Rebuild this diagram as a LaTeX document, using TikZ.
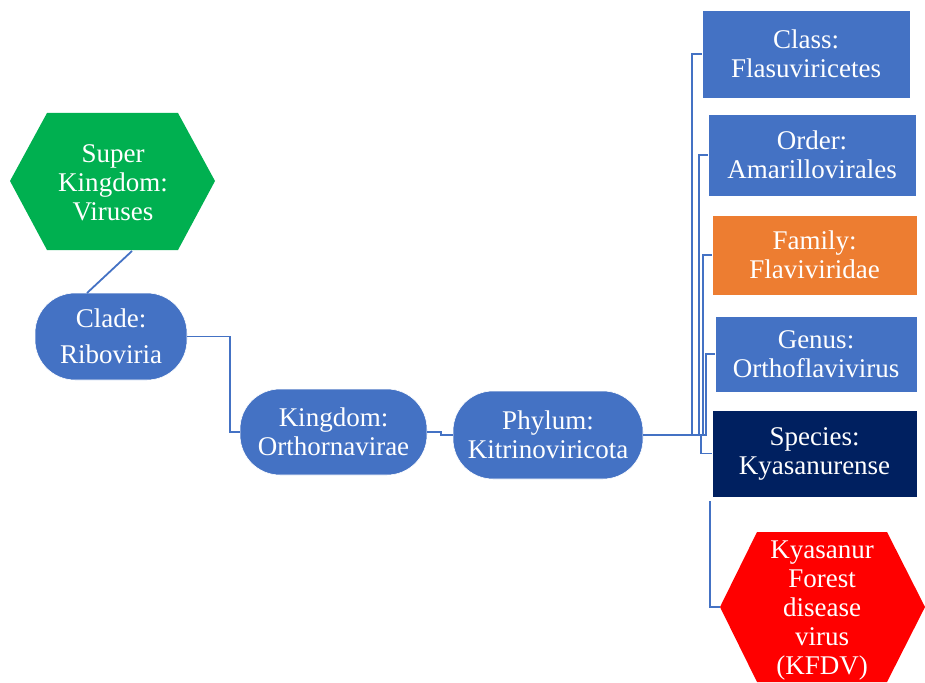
\documentclass[tikz,border=0pt]{standalone}
\usepackage{fontspec}
\setmainfont{Liberation Serif}
\usetikzlibrary{calc}
\definecolor{cblue}{HTML}{4472C4}
\definecolor{cgreen}{HTML}{00B050}
\definecolor{corange}{HTML}{ED7D31}
\definecolor{cnavy}{HTML}{002060}
\definecolor{cred}{HTML}{FF0000}
\tikzset{
  txt/.style={text=white, align=center, font=\fontsize{27}{29}\selectfont, inner sep=0pt},
  rbox/.style={txt, fill=cblue, draw=white, line width=0.6pt, rounded corners=40pt, minimum width=#1},
  sbox/.style={txt, draw=white, line width=0.6pt},
  conn/.style={draw=cblue, line width=1.8pt},
}
\begin{document}
\begin{tikzpicture}[x=1pt,y=-1pt]
\useasboundingbox (0,0) rectangle (925,682);
% hexagons
\fill[cgreen] (10,181) -- (47,113) -- (178,113) -- (215,181) -- (178,250) -- (47,250) -- cycle;
\node[txt] (sk) at (113,182.5) {Super\\Kingdom:\\Viruses};
\fill[cred] (720,607) -- (757,532) -- (887,532) -- (925,607) -- (887,682) -- (757,682) -- cycle;
\node[txt] (kfdv) at (822,611) {Kyasanur\\Forest\\disease\\virus\\(KFDV)};
\coordinate (skb) at (132,251);
\coordinate (kfdvl) at (720,607);
% rounded nodes
\node[rbox=152pt, minimum height=87pt, font=\fontsize{27}{36}\selectfont] (clade) at (111,336.5) {Clade:\\Riboviria};
\node[rbox=187pt, minimum height=86pt] (kingdom) at (333.5,432) {Kingdom:\\Orthornavirae};
\node[rbox=190pt, minimum height=88pt] (phylum) at (548,435) {Phylum:\\Kitrinoviricota};
\coordinate (cladet) at (87,293);
% rectangles
\node[sbox, fill=cblue, minimum width=208pt, minimum height=88pt] (class) at (806,54) {Class:\\Flasuviricetes};
\node[sbox, fill=cblue, minimum width=208pt, minimum height=82pt] (order) at (812,155) {Order:\\Amarillovirales};
\node[sbox, fill=corange, minimum width=205pt, minimum height=80pt] (family) at (814.5,255) {Family:\\Flaviviridae};
\node[sbox, fill=cblue, minimum width=202pt, minimum height=76pt] (genus) at (816,354) {Genus:\\Orthoflavivirus};
\node[sbox, fill=cnavy, minimum width=205pt, minimum height=87pt] (species) at (814.5,453.5) {Species:\\Kyasanurense};
% connectors
\draw[conn] (skb) -- (cladet);
\draw[conn] (clade.east) -- ++(43,0) |- (kingdom.west);
\draw[conn] (kingdom.east) -- ++(14,0) |- (phylum.west);
\draw[conn] (phylum.east) -- ++(49,0) |- (class.west);
\draw[conn] (phylum.east) -- ++(56,0) |- (order.west);
\draw[conn] (phylum.east) -- ++(60,0) |- (family.west);
\draw[conn] (phylum.east) -- ++(63,0) |- (genus.west);
\draw[conn] (phylum.east) -- ++(58,0) |- (species.west);
\draw[conn] ($(species.south west)+(-2,4)$) |- (kfdvl);
\end{tikzpicture}
\end{document}
